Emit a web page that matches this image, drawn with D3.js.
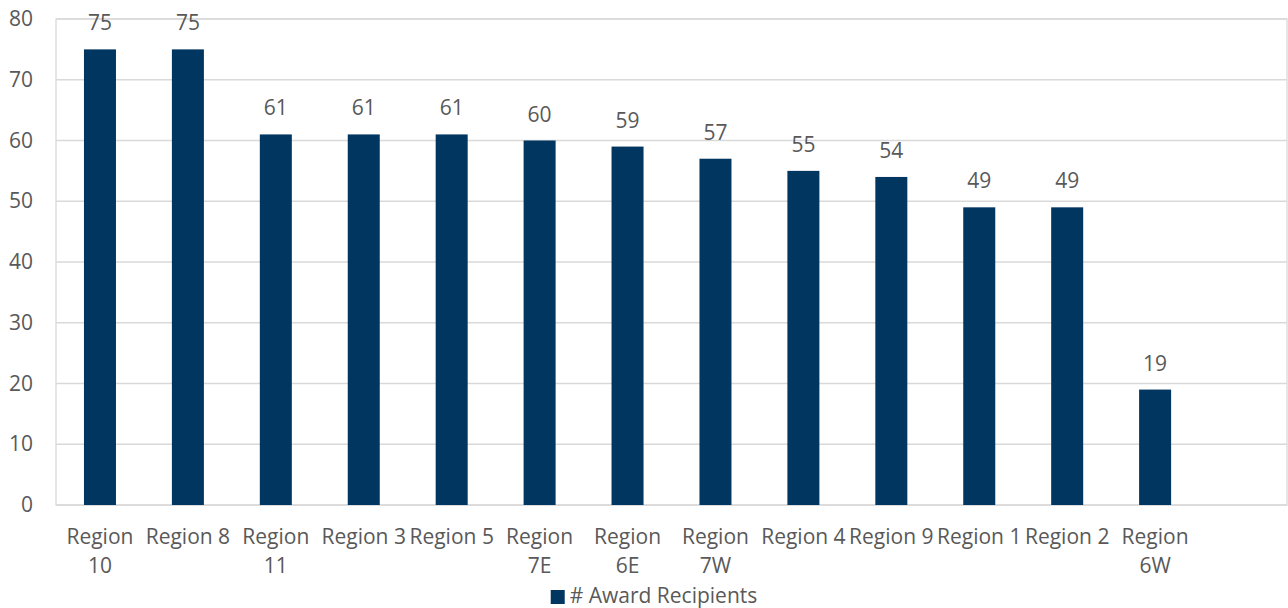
<!DOCTYPE html>
<html>
<head>
<meta charset="utf-8">
<script src="https://cdn.jsdelivr.net/npm/d3@7"></script>
<style>
  body { margin: 0; background: #fff; }
  text { font-family: "Open Sans", sans-serif; fill: #595959; }
</style>
</head>
<body>
<svg id="chart"></svg>
<script>
const regions = ['Region 10', 'Region 8', 'Region 11', 'Region 3', 'Region 5', 'Region 7E',
  'Region 6E', 'Region 7W', 'Region 4', 'Region 9', 'Region 1', 'Region 2', 'Region 6W'];
const recipients = [75, 75, 61, 61, 61, 60, 59, 57, 55, 54, 49, 49, 19];
const yTicks = [0, 10, 20, 30, 40, 50, 60, 70, 80];
const seriesName = '# Award Recipients';

const width = 1288, height = 608;
const plot = { left: 56, right: 1287, top: 19, bottom: 505 };
const barColor = '#003660';
const fontSize = '21px';

const svg = d3.select('#chart')
  .attr('width', width)
  .attr('height', height);

// the plot keeps room for one more (empty) slot on the right
const step = (plot.right - plot.left) / (regions.length + 1);

const x = d3.scaleBand()
  .domain(regions)
  .range([plot.left, plot.left + step * regions.length])
  .paddingInner(0.636)
  .paddingOuter(0.318);

const y = d3.scaleLinear()
  .domain([0, 80])
  .range([plot.bottom, plot.top]);

// gridlines
svg.append('g')
  .selectAll('line')
  .data(yTicks)
  .join('line')
    .attr('x1', plot.left)
    .attr('x2', plot.right)
    .attr('y1', d => y(d))
    .attr('y2', d => y(d))
    .attr('stroke', '#d9d9d9')
    .attr('stroke-width', 1.3);

// plot border
svg.append('rect')
  .attr('x', plot.left)
  .attr('y', plot.top)
  .attr('width', plot.right - plot.left)
  .attr('height', plot.bottom - plot.top)
  .attr('fill', 'none')
  .attr('stroke', '#d9d9d9')
  .attr('stroke-width', 1.3);

// y axis labels
const yAxis = svg.append('g')
  .attr('transform', `translate(${plot.left - 23},0)`)
  .call(d3.axisLeft(y).tickValues(yTicks).tickSize(0).tickPadding(0));
yAxis.select('.domain').remove();
yAxis.selectAll('text')
  .style('font-size', fontSize)
  .style('font-family', '"Open Sans", sans-serif')
  .attr('fill', '#595959');

// bars
svg.append('g')
  .selectAll('rect')
  .data(regions)
  .join('rect')
    .attr('x', d => x(d))
    .attr('y', (d, i) => y(recipients[i]))
    .attr('width', x.bandwidth())
    .attr('height', (d, i) => plot.bottom - y(recipients[i]))
    .attr('fill', barColor);

// value labels
svg.append('g')
  .selectAll('text')
  .data(regions)
  .join('text')
    .attr('x', d => x(d) + x.bandwidth() / 2)
    .attr('y', (d, i) => y(recipients[i]) - 19)
    .attr('text-anchor', 'middle')
    .style('font-size', fontSize)
    .text((d, i) => recipients[i]);

// category labels, wrapped when wider than a slot
const catLabels = svg.append('g')
  .selectAll('text')
  .data(regions)
  .join('text')
    .attr('x', d => x(d) + x.bandwidth() / 2)
    .attr('y', 544)
    .attr('text-anchor', 'middle')
    .style('font-size', fontSize)
    .text(d => d);

catLabels.each(function(d) {
  const t = d3.select(this);
  if (this.getComputedTextLength() > step) {
    const words = d.split(' ');
    const cx = t.attr('x');
    t.text(null);
    t.append('tspan').attr('x', cx).text(words[0]);
    t.append('tspan').attr('x', cx).attr('dy', 29).text(words.slice(1).join(' '));
  }
});

// legend
const legend = svg.append('g');
const legendText = legend.append('text')
  .attr('y', 603)
  .style('font-size', fontSize)
  .text(seriesName);
const tw = legendText.node().getComputedTextLength();
const lx = 654 - (tw + 19) / 2;
legend.append('rect')
  .attr('x', lx)
  .attr('y', 590)
  .attr('width', 14)
  .attr('height', 14)
  .attr('fill', barColor);
legendText.attr('x', lx + 19);
</script>
</body>
</html>
